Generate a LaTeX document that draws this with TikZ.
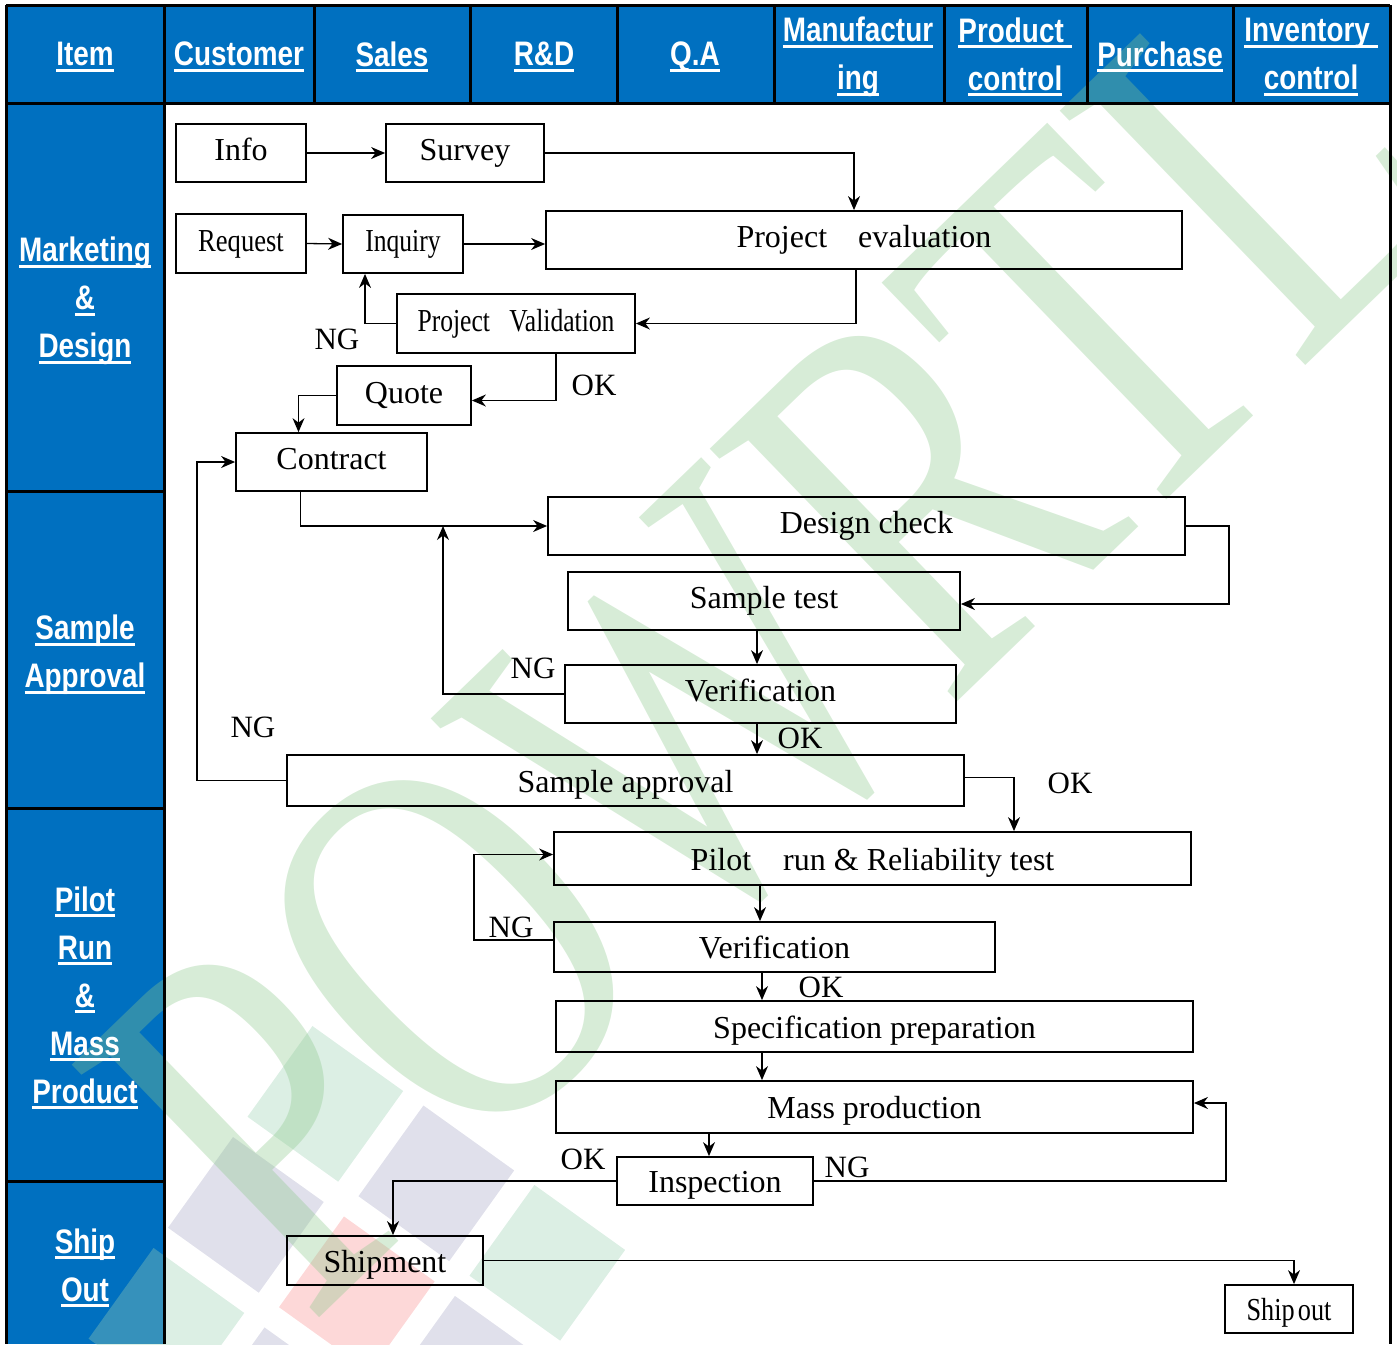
\documentclass[tikz,border=0pt]{standalone}
\usepackage{fontspec}
\setmainfont{Liberation Serif}
\newfontfamily\hdfont[FakeStretch=0.82]{Liberation Sans}
\usepackage{xcolor}
\usetikzlibrary{arrows.meta, positioning}
\definecolor{laneblue}{RGB}{0, 112, 192}
\definecolor{wmgreen}{RGB}{155, 209, 178}
\definecolor{wmlav}{RGB}{166, 166, 198}
\definecolor{wmpink}{RGB}{249, 144, 144}
\definecolor{wmtext}{RGB}{140, 200, 140}
% underline for the header cells
\newcommand{\hul}[1]{\setbox0=\hbox{#1}\rlap{\rule[-6pt]{\wd0}{3pt}}\box0}

\begin{document}
\begin{tikzpicture}[x=1pt, y=-1pt,
    box/.style={draw, line width=1.8pt, inner sep=0pt, text height=22pt, text depth=7pt, font=\fontsize{32}{36}\selectfont},
    slim/.style={text height=30pt},
    hd/.style={text=white, align=center, font=\hdfont\bfseries\fontsize{34}{48}\selectfont},
    lbl/.style={inner sep=0pt, font=\fontsize{31}{34}\selectfont},
    flow/.style={line width=1.3pt, -{Stealth[length=14pt, width=12pt, inset=4.5pt]}},
    grid/.style={line width=3pt},
    wm/.style={text=wmtext, text opacity=0.35, inner sep=0pt, font=\fontsize{540}{540}\selectfont}]
    \useasboundingbox (0,0) rectangle (1397,1344);

    % lanes
    \fill[laneblue] (6,5) rectangle (1390,103);
    \fill[laneblue] (6,103) rectangle (164,1344);

    % watermark
    \foreach \i/\j/\c in {0/-1/wmgreen, 1/-1/wmlav, 2/-1/wmgreen, 0/0/wmlav, 1/0/wmpink, 2/0/wmlav, 0/1/wmgreen, 1/1/wmlav}
        \fill[\c, fill opacity=0.35] ({233+\i*137*0.81-\j*137*0.58}, {1137+\i*137*0.58+\j*137*0.81})
            -- ++(112*0.81, 112*0.58) -- ++(-112*0.58, 112*0.81) -- ++(-112*0.81, -112*0.58) -- cycle;
    \node[wm, rotate=44] (brand) at (770,640) {\scalebox{0.74}[1]{POWRTL}};

    % table lines
    \draw[grid] (6,5) -- (1390,5);
    \draw[grid] (6,103) -- (1390,103);
    \draw[grid] (6,5) -- (6,1344);
    \draw[grid] (164,5) -- (164,1344);
    \draw[grid] (1390,5) -- (1390,1344);
    \foreach \x in {314,470,617,774,944,1087,1233}
        \draw[grid] (\x,5) -- (\x,103);
    \foreach \y in {491,808,1181}
        \draw[grid] (6,\y) -- (164,\y);

    % header
    \node[hd] (hitem) at (85,57) {\hul{Item}};
    \node[hd] (hcust) at (239,57) {\hul{Customer}};
    \node[hd] (hsales) at (392,57) {\hul{Sales}};
    \node[hd] (hrd) at (544,57) {\hul{R\&D}};
    \node[hd] (hqa) at (695,57) {\hul{Q.A}};
    \node[hd] (hmfg) at (858,57) {\hul{Manufactur}\\\hul{ing}};
    \node[hd] (hpc) at (1015,57) {\hul{Product\ }\\\hul{control}};
    \node[hd] (hpur) at (1160,57) {\hul{Purchase}};
    \node[hd] (hinv) at (1311,57) {\hul{Inventory\ }\\\hul{control}};

    \node[hd] (lmkt) at (85,301) {\hul{Marketing}\\\hul{\&}\\\hul{Design}};
    \node[hd] (lsmp) at (85,655) {\hul{Sample}\\\hul{Approval}};
    \node[hd] (lpilot) at (85,998) {\hul{Pilot}\\\hul{Run}\\\hul{\&}\\\hul{Mass}\\\hul{Product}};
    \node[hd] (lship) at (85,1268) {\hul{Ship}\\\hul{Out}};

    % boxes
    \node[box, minimum width=130, minimum height=58] (info) at (241,153) {Info};
    \node[box, minimum width=158, minimum height=58] (survey) at (465,153) {Survey};
    \node[box, minimum width=130, minimum height=59] (request) at (241,243.5) {\scalebox{0.83}[1]{Request}};
    \node[box, minimum width=120, minimum height=58] (inquiry) at (403,244) {\scalebox{0.8}[1]{Inquiry}};
    \node[box, minimum width=636, minimum height=58] (peval) at (864,240) {Project\hspace{31pt}evaluation};
    \node[box, minimum width=238, minimum height=59] (pval) at (516,323.5) {\scalebox{0.8}[1]{Project\hspace{24pt}Validation}};
    \node[box, minimum width=134, minimum height=59] (quote) at (404,395.5) {Quote};
    \node[box, minimum width=191, minimum height=58] (contract) at (331.5,462) {Contract};
    \node[box, minimum width=637, minimum height=58] (dcheck) at (866.5,526) {Design check};
    \node[box, minimum width=392, minimum height=58] (stest) at (764,601) {Sample test};
    \node[box, minimum width=391, minimum height=58] (verA) at (760.5,694) {Verification};
    \node[box, slim, minimum width=677, minimum height=51] (sapp) at (625.5,780.5) {Sample approval};
    \node[box, slim, minimum width=637, minimum height=53] (pilot) at (872.5,858.5) {Pilot\quad run \& Reliability test};
    \node[box, slim, minimum width=441, minimum height=50] (verB) at (774.5,947) {Verification};
    \node[box, slim, minimum width=637, minimum height=51] (spec) at (874.5,1026.5) {Specification preparation};
    \node[box, slim, minimum width=637, minimum height=52] (mass) at (874.5,1107) {Mass production};
    \node[box, slim, minimum width=196, minimum height=48] (insp) at (715,1181) {Inspection};
    \node[box, slim, minimum width=196, minimum height=49] (ship) at (385,1260.5) {Shipment};
    \node[box, slim, minimum width=128, minimum height=48] (shipout) at (1289,1309) {\scalebox{0.82}[1]{Ship\hspace{4pt}out}};
    \coordinate (merge) at (443,526);

    % labels
    \node[lbl] (ngA) at (337,339) {NG};
    \node[lbl] (okA) at (594,385) {OK};
    \node[lbl] (ngB) at (533,668) {NG};
    \node[lbl] (ngC) at (253,727) {NG};
    \node[lbl] (okB) at (800,738) {OK};
    \node[lbl] (okC) at (1070,783) {OK};
    \node[lbl] (ngD) at (511,927) {NG};
    \node[lbl] (okD) at (821,987) {OK};
    \node[lbl] (okE) at (583,1159) {OK};
    \node[lbl] (ngE) at (847,1167) {NG};

    % connectors
    \draw[flow] (info.east) -- (survey.west);
    \draw[flow] (survey.east) -| ([xshift=-10pt]peval.north);
    \draw[flow] (request.east) -- (inquiry.west);
    \draw[flow] (inquiry.east) -- (inquiry.east -| peval.west);
    \draw[flow] ([xshift=-8pt]peval.south) |- (pval.east);
    \draw[flow] (pval.west) -| ([xshift=-38pt]inquiry.south);
    \draw[flow] ([xshift=40pt]pval.south) |- ([yshift=-5pt]quote.east);
    \draw[flow] (quote.west) -| ([xshift=-33pt]contract.north);
    \draw[flow] ([xshift=-31pt]contract.south) |- (dcheck.west);
    \draw[flow] (verA.west) -| (merge);
    \draw[flow] (dcheck.east) -- ++(43,0) |- ([yshift=-3pt]stest.east);
    \draw[flow] ([xshift=-7pt]stest.south) -- ([xshift=-3.5pt]verA.north);
    \draw[flow] ([xshift=-3.5pt]verA.south) -- ([xshift=131.5pt]sapp.north);
    \draw[flow] (sapp.west) -- ++(-89,0) |- (contract.west);
    \draw[flow] ([yshift=3pt]sapp.east) -- ++(50,0) -| ([xshift=141.5pt]pilot.north);
    \draw[flow] ([xshift=-112.5pt]pilot.south) -- ([xshift=-14.5pt]verB.north);
    \draw[flow] ([yshift=7pt]verB.west) -- ++(-79,0) |- ([yshift=4pt]pilot.west);
    \draw[flow] ([xshift=-12.5pt]verB.south) -- ([xshift=-112.5pt]spec.north);
    \draw[flow] ([xshift=-112.5pt]spec.south) -- ([xshift=-112.5pt]mass.north);
    \draw[flow] ([xshift=-165.5pt]mass.south) -- ([xshift=-6pt]insp.north);
    \draw[flow] (insp.east) -- ++(412,0) |- ([yshift=4pt]mass.east);
    \draw[flow] (insp.west) -| ([xshift=8pt]ship.north);
    \draw[flow] (ship.east) -| ([xshift=5pt]shipout.north);
\end{tikzpicture}
\end{document}
